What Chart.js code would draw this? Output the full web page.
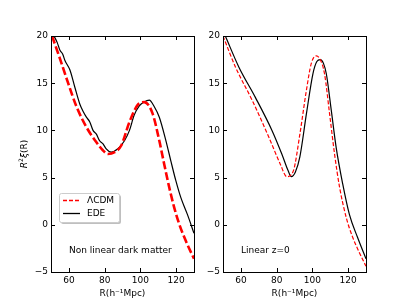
<!DOCTYPE html>
<html>
<head>
<meta charset="utf-8">
<script src="https://cdn.jsdelivr.net/npm/chart.js@4"></script>
<style>
html,body{margin:0;padding:0;background:#fff;width:407px;height:305px;overflow:hidden}
.pan{position:absolute;top:0;height:305px}
</style>
</head>
<body>
<div class="pan" style="left:0;width:200px"><canvas id="c-nl"></canvas></div>
<div class="pan" style="left:200px;width:207px"><canvas id="c-lin"></canvas></div>
<script>
'use strict';
// ── data ──
const xTicks=[60,80,100,120];
const yTicks=[-5,0,5,10,15,20];
// non linear dark matter panel
const nlLcdmX=[50.6,55,59.6,64.3,69.8,75.4,79,81.8,85.6,89.3,93.9,98.5,102.2,106.8,110.6,113.3,116.1,118.9,121.7,125.4,130];
const nlLcdmY=[20,17.6,15,12.5,10.35,8.75,7.9,7.5,7.7,8.4,10.9,12.7,13.0,11.8,8.9,6.45,4.0,1.85,0.1,-1.7,-3.6];
const nlEdeX=[51.7,53.5,55,56.5,57.8,60.6,63.3,66.1,68,69.8,71.7,73.5,75.4,77.2,79,80.9,83.7,87.4,91.1,93.9,96.5,99.4,102,105,107.8,110.6,114.3,117,119.8,122.6,126.3,130];
const nlEdeY=[20,19.3,18.5,18.1,17.4,16.4,14.6,12.8,12.0,11.4,10.9,10,9.6,8.9,8.6,8.05,7.7,8.05,8.9,10,11.6,12.6,13.0,13.2,12.5,11.4,8.9,6.8,4.7,2.9,1.1,-0.9];
// linear z=0 panel
const linLcdmX=[50,57,66.3,75.6,82,85.7,89.4,93,96.7,99.4,102.2,104.4,106.8,109.6,112.4,115.2,118.9,122.6,126.3,130];
const linLcdmY=[20,16.7,13.2,9.3,6.45,5.1,5.74,9.6,14.3,17.1,17.9,17.5,16.0,11.8,7.5,4.0,0.8,-1.35,-2.95,-4.4];
const linEdeX=[51.3,58.9,68.1,77.4,82.9,86.4,88.2,90.5,93,96.7,100.3,102.5,104.4,106.2,107.8,110.6,113.3,117,120.7,125.3,130];
const linEdeY=[20,16.7,13.5,10,7.5,5.74,5.1,5.6,7.2,11.8,16.0,17.3,17.5,17.1,16.0,12.1,8.2,4.3,1.1,-1.35,-3.6];

const FONT='"DejaVu Sans", sans-serif';
const zip=(xs,ys)=>xs.map((x,i)=>({x,y:ys[i]}));
const fmt=v=>v<0?'\u2212'+Math.abs(v):String(v);

// frame + inward ticks + annotations
const decor={
  id:'decor',
  afterDraw(chart,args,o){
    const {ctx,chartArea:a,scales:{x,y}}=chart;
    ctx.save();
    ctx.strokeStyle='#000';ctx.lineWidth=1;
    ctx.strokeRect(Math.round(a.left)+0.5,Math.round(a.top)+0.5,Math.round(a.right-a.left),Math.round(a.bottom-a.top));
    const L=4;
    ctx.beginPath();
    xTicks.forEach(v=>{const px=Math.round(x.getPixelForValue(v))+0.5;
      ctx.moveTo(px,a.bottom);ctx.lineTo(px,a.bottom-L);ctx.moveTo(px,a.top);ctx.lineTo(px,a.top+L)});
    yTicks.forEach(v=>{const py=Math.round(y.getPixelForValue(v))+0.5;
      ctx.moveTo(a.left,py);ctx.lineTo(a.left+L,py);ctx.moveTo(a.right,py);ctx.lineTo(a.right-L,py)});
    ctx.stroke();
    // note text
    ctx.fillStyle='#000';ctx.font='9px '+FONT;ctx.textBaseline='middle';ctx.textAlign='left';
    ctx.fillText(o.note,o.noteX,251);
    if(o.ylabel){
      ctx.translate(25,154);ctx.rotate(-Math.PI/2);
      const parts=[['R','italic 9px '+FONT,0],['2','6px '+FONT,-4],['\u03be','italic 9px '+FONT,0],['(R)','9px '+FONT,0]];
      let w=0;parts.forEach(p=>{ctx.font=p[1];w+=ctx.measureText(p[0]).width});
      let cx=-w/2;
      parts.forEach(p=>{ctx.font=p[1];ctx.fillText(p[0],cx,p[2]);cx+=ctx.measureText(p[0]).width});
      ctx.setTransform(1,0,0,1,0,0);
    }
    if(o.legend){
      const bx=59,by=193,bw=60,bh=29;
      ctx.fillStyle='rgba(0,0,0,0.25)';
      ctx.beginPath();ctx.roundRect(bx+2,by+2,bw,bh,2);ctx.fill();
      ctx.fillStyle='#fff';ctx.strokeStyle='#ccc';
      ctx.beginPath();ctx.roundRect(bx+0.5,by+0.5,bw,bh,2);ctx.fill();ctx.stroke();
      ctx.lineWidth=1.3;
      ctx.strokeStyle='#ff0000';ctx.setLineDash([4,2]);
      ctx.beginPath();ctx.moveTo(63,200.5);ctx.lineTo(80,200.5);ctx.stroke();
      ctx.strokeStyle='#000';ctx.setLineDash([]);
      ctx.beginPath();ctx.moveTo(63,213.5);ctx.lineTo(80,213.5);ctx.stroke();
      ctx.fillStyle='#000';ctx.font='9px '+FONT;
      ctx.fillText('\u039bCDM',87,201);ctx.fillText('EDE',87,214);
    }
    ctx.restore();
  }
};

function makePanel(id,lcdm,ede,cfg){
  return new Chart(document.getElementById(id),{
    type:'line',
    data:{datasets:[
      {label:'\u039bCDM',data:lcdm,borderColor:'#ff0000',borderWidth:cfg.redW,borderDash:cfg.dash,pointRadius:0,fill:false,cubicInterpolationMode:'monotone'},
      {label:'EDE',data:ede,borderColor:'#000',borderWidth:1.2,pointRadius:0,fill:false,cubicInterpolationMode:'monotone'}
    ]},
    options:{
      responsive:false,animation:false,devicePixelRatio:1,
      layout:{padding:{top:36,right:cfg.padR,left:0,bottom:0}},
      plugins:{legend:{display:false},tooltip:{enabled:false},decor:cfg.decor},
      scales:{
        x:{type:'linear',min:50,max:130,
          grid:{display:false,drawTicks:false},border:{display:false},
          afterBuildTicks:s=>{s.ticks=xTicks.map(v=>({value:v}))},
          afterFit:s=>{s.height=33},
          ticks:{padding:3,color:'#000',font:{family:FONT,size:9},callback:fmt},
          title:{display:true,text:'R(h\u207b\u00b9Mpc)',color:'#000',font:{family:FONT,size:9},padding:{top:0,bottom:6}}},
        y:{type:'linear',min:-5,max:20,
          grid:{display:false,drawTicks:false},border:{display:false},
          afterBuildTicks:s=>{s.ticks=yTicks.map(v=>({value:v}))},
          afterFit:s=>{s.width=cfg.yW},
          ticks:{padding:3,color:'#000',font:{family:FONT,size:9},callback:fmt}}
      }
    },
    plugins:[decor]
  });
}
const setSize=(id,w)=>{const c=document.getElementById(id);c.width=w;c.height=305;c.style.width=w+'px';c.style.height='305px'};
setSize('c-nl',200);setSize('c-lin',207);
makePanel('c-nl',zip(nlLcdmX,nlLcdmY),zip(nlEdeX,nlEdeY),
  {redW:2.6,dash:[8,3],padR:6,yW:51,decor:{note:'Non linear dark matter',noteX:69,ylabel:true,legend:true}});
makePanel('c-lin',zip(linLcdmX,linLcdmY),zip(linEdeX,linEdeY),
  {redW:1.2,dash:[4,2],padR:41,yW:23,decor:{note:'Linear z=0',noteX:41,ylabel:false,legend:false}});
</script>
</body>
</html>
